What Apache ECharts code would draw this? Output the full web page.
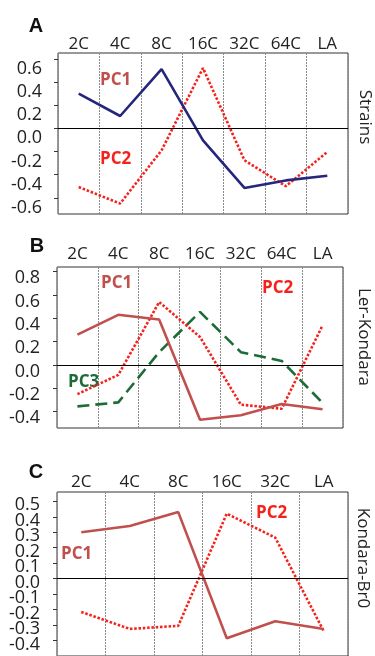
<!DOCTYPE html>
<html>
<head>
<meta charset="utf-8">
<script src="https://cdn.jsdelivr.net/npm/echarts@6/dist/echarts.min.js"></script>
<style>
  html, body { margin: 0; padding: 0; background: #fff; }
  #chart { width: 375px; height: 656px; }
</style>
</head>
<body>
<div id="chart"></div>
<script>
// categories
var catsAB = ['2C', '4C', '8C', '16C', '32C', '64C', 'LA'];
var catsC = ['2C', '4C', '8C', '16C', '32C', 'LA'];

// A - Strains
var strainsPC1 = [0.30, 0.106, 0.51, -0.104, -0.515, -0.45, -0.41];
var strainsPC2 = [-0.507, -0.65, -0.19, 0.52, -0.276, -0.50, -0.205];
// B - Ler-Kondara
var lerPC1 = [0.26, 0.43, 0.39, -0.47, -0.43, -0.335, -0.38];
var lerPC2 = [-0.25, -0.085, 0.54, 0.24, -0.34, -0.375, 0.34];
var lerPC3 = [-0.355, -0.32, 0.11, 0.455, 0.11, 0.035, -0.325];
// C - Kondara-Br0
var kbPC1 = [0.30, 0.34, 0.43, -0.385, -0.275, -0.325];
var kbPC2 = [-0.215, -0.325, -0.305, 0.42, 0.265, -0.34];

// tick labels
var ticksA = [-0.6, -0.4, -0.2, 0, 0.2, 0.4, 0.6];
var ticksB = [-0.4, -0.2, 0, 0.2, 0.4, 0.6, 0.8];
// C labels are packed tightly, split over two overlaid axes so none get dropped
var ticksC1 = [-0.3, -0.1, 0.1, 0.3, 0.5];
var ticksC2 = [-0.4, -0.2, 0, 0.2, 0.4];

var FONT = '"Open Sans", sans-serif';
var navy = '#25267c';
var brick = '#c0504d';
var red = '#f5211b';
var green = '#1d6b37';

function xAx(idx, cats, margin) {
  return {
    gridIndex: idx,
    type: 'category',
    data: cats,
    position: 'top',
    boundaryGap: true,
    axisLine: { show: false, onZero: false },
    axisTick: { show: false },
    axisLabel: { fontFamily: FONT, fontSize: 17, color: '#222', margin: margin, interval: 0 },
    splitLine: { show: true, lineStyle: { color: '#8a8a8a', type: [2, 1], width: 1 } }
  };
}

// labels in the figure sit a few px below their ticks: shift via lineHeight with top alignment
function yAx(idx, min, max, ticks, shift, margin) {
  return {
    gridIndex: idx,
    type: 'value',
    position: 'left',
    min: min,
    max: max,
    axisLine: { show: false },
    splitLine: { show: false },
    axisTick: { show: true, inside: false, length: 4, customValues: ticks, lineStyle: { color: '#333' } },
    axisLabel: {
      customValues: ticks,
      showMinLabel: true, showMaxLabel: true, hideOverlap: false,
      fontFamily: FONT, fontSize: 18, color: '#222',
      margin: margin, align: 'right', verticalAlign: 'top',
      lineHeight: shift * 2,
      formatter: function (v) { return v.toFixed(1); }
    }
  };
}

var zeroLine = {
  silent: true,
  symbol: ['none', 'none'],
  label: { show: false },
  lineStyle: { color: '#000', type: 'solid', width: 1 },
  data: [{ yAxis: 0 }]
};

function line(idx, data, color, type, z, withZero) {
  var s = {
    type: 'line',
    xAxisIndex: idx,
    yAxisIndex: idx,
    data: data,
    showSymbol: false,
    z: z,
    lineStyle: { color: color, width: 2.6, type: type },
    itemStyle: { color: color }
  };
  if (withZero) s.markLine = zeroLine;
  return s;
}

function txt(x, y, text, size, color, weight, align) {
  return {
    type: 'text', x: x, y: y,
    style: {
      text: text, fontFamily: FONT, fontSize: size, fontWeight: weight || 'normal',
      fill: color, align: align || 'left', verticalAlign: 'middle'
    }
  };
}

function vtxt(x, y, text) {
  return {
    type: 'text', x: x, y: y, rotation: -Math.PI / 2,
    style: { text: text, fontFamily: FONT, fontSize: 17, fill: '#222', align: 'center', verticalAlign: 'middle' }
  };
}

function letter(x, y, t) {
  return {
    type: 'text', x: x, y: y,
    style: { text: t, fontFamily: '"Liberation Sans", Arial, sans-serif', fontSize: 20, fontWeight: 'bold', fill: '#111', align: 'center', verticalAlign: 'middle' }
  };
}

var chart = echarts.init(document.getElementById('chart'));
chart.setOption({
  animation: false,
  backgroundColor: '#fff',
  grid: [
    { left: 58, top: 53, width: 290, height: 161, show: true, borderColor: '#333', borderWidth: 1, backgroundColor: '#fff' },
    { left: 57, top: 267, width: 286, height: 161, show: true, borderColor: '#333', borderWidth: 1, backgroundColor: '#fff' },
    { left: 57, top: 492, width: 291, height: 167, show: true, borderColor: '#333', borderWidth: 1, backgroundColor: '#fff' }
  ],
  xAxis: [xAx(0, catsAB, 0), xAx(1, catsAB, 4.5), xAx(2, catsC, 1)],
  yAxis: [
    yAx(0, -0.74, 0.65, ticksA, 10, 16),
    yAx(1, -0.54, 0.84, ticksB, 6.7, 17),
    yAx(2, -0.5, 0.56, ticksC1, 4, 17),
    yAx(2, -0.5, 0.56, ticksC2, 4, 17)
  ],
  series: [
    line(0, strainsPC2, red, [2.5, 1.8], 3, true),
    line(0, strainsPC1, navy, 'solid', 4),
    line(1, lerPC3, green, [12, 6], 3, true),
    line(1, lerPC2, red, [2.5, 1.8], 4),
    line(1, lerPC1, brick, 'solid', 5),
    line(2, kbPC2, red, [2.5, 1.8], 3, true),
    line(2, kbPC1, brick, 'solid', 4)
  ],
  graphic: [
    letter(36, 26, 'A'),
    letter(37, 246, 'B'),
    letter(36, 472, 'C'),
    vtxt(365, 117, 'Strains'),
    vtxt(364, 337, 'Ler-Kondara'),
    vtxt(363, 558, 'Kondara-Br0'),
    txt(100, 80, 'PC1', 17, brick, 'bold'),
    txt(100, 159, 'PC2', 17, red, 'bold'),
    txt(101, 283, 'PC1', 17, brick, 'bold'),
    txt(262, 288, 'PC2', 17, red, 'bold'),
    txt(68, 382, 'PC3', 17, green, 'bold'),
    txt(61, 554, 'PC1', 17, brick, 'bold'),
    txt(256, 513, 'PC2', 17, red, 'bold')
  ]
});
</script>
</body>
</html>
